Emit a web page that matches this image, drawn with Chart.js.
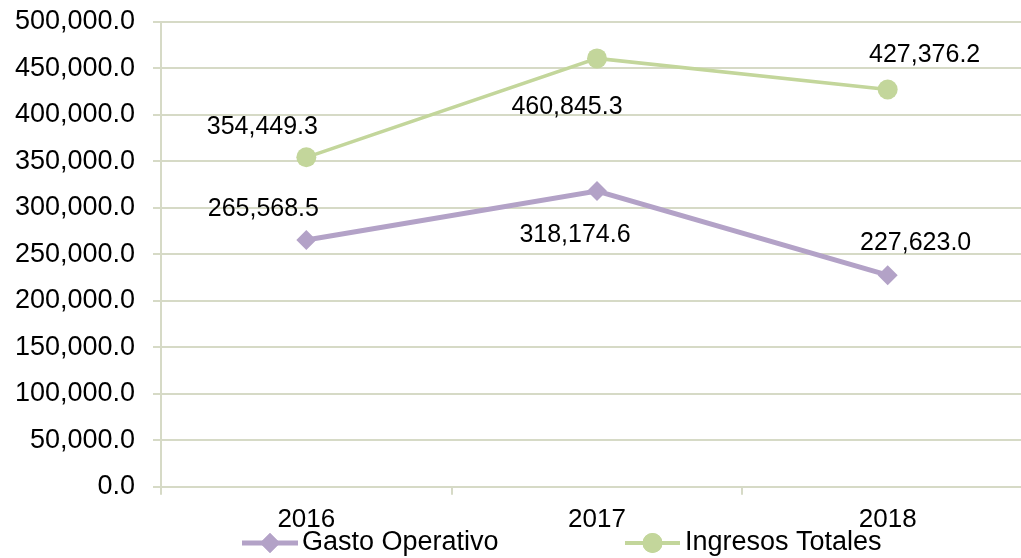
<!DOCTYPE html>
<html>
<head>
<meta charset="utf-8">
<script src="https://cdn.jsdelivr.net/npm/chart.js@4.4.0/dist/chart.umd.min.js"></script>
<style>
  html, body { margin: 0; padding: 0; background: #fff; overflow: hidden; }
  #wrap { width: 1021px; height: 558px; overflow: hidden; }
  #box { width: 1043px; height: 558px; }
</style>
</head>
<body>
<div id="wrap"><div id="box"><canvas id="chart"></canvas></div></div>
<script>
// Chart data
const years = ['2016', '2017', '2018'];
const gastoOperativo = [265568.5, 318174.6, 227623.0];
const ingresosTotales = [354449.3, 460845.3, 427376.2];
const seriesNames = ['Gasto Operativo', 'Ingresos Totales'];

const purple = '#b3a2c7';
const green = '#c3d69b';
const gridColor = '#d6dac6';
const fontFamily = '"Liberation Sans", Arial, sans-serif';

const fmt = v => v.toLocaleString('en-US', { minimumFractionDigits: 1, maximumFractionDigits: 1 });

// label offsets (px) from each point, per dataset
const labelOffsets = [
    [[-43, -31], [-22, 44], [28, -32]],
    [[-44, -30], [-30, 49], [37, -34]]
];

const dataLabels = {
    id: 'dataLabels',
    afterDatasetsDraw(chart) {
        const ctx = chart.ctx;
        ctx.save();
        ctx.font = '25px ' + fontFamily;
        ctx.fillStyle = '#000';
        ctx.textAlign = 'center';
        ctx.textBaseline = 'middle';
        chart.data.datasets.forEach((ds, i) => {
            chart.getDatasetMeta(i).data.forEach((pt, j) => {
                const off = labelOffsets[i][j];
                ctx.fillText(fmt(ds.data[j]), pt.x + off[0], pt.y + off[1]);
            });
        });
        ctx.restore();
    }
};

// legend with line + marker like the original
const bottomLegend = {
    id: 'bottomLegend',
    afterDraw(chart) {
        const ctx = chart.ctx;
        const y = 543;
        const items = [
            { x: 242, len: 56, color: purple, width: 5, style: 'rectRot', r: 10, tx: 302 },
            { x: 625, len: 55, color: green, width: 4, style: 'circle', r: 10, tx: 685 }
        ];
        ctx.save();
        items.forEach((it, i) => {
            ctx.strokeStyle = it.color;
            ctx.lineWidth = it.width;
            ctx.beginPath();
            ctx.moveTo(it.x, y);
            ctx.lineTo(it.x + it.len, y);
            ctx.stroke();
            ctx.fillStyle = it.color;
            Chart.helpers.drawPoint(ctx, { pointStyle: it.style, radius: it.r, borderWidth: 0 }, it.x + it.len / 2, y);
            ctx.fill();
            ctx.fillStyle = '#000';
            ctx.font = '27px ' + fontFamily;
            ctx.textAlign = 'left';
            ctx.textBaseline = 'middle';
            ctx.fillText(seriesNames[i], it.tx, y);
        });
        ctx.restore();
    }
};

new Chart(document.getElementById('chart').getContext('2d'), {
    type: 'line',
    data: {
        labels: years,
        datasets: [{
            label: seriesNames[0],
            data: gastoOperativo,
            borderColor: purple,
            backgroundColor: purple,
            borderWidth: 5,
            pointStyle: 'rectRot',
            pointRadius: 10,
            pointHoverRadius: 10,
            pointBorderWidth: 0,
            tension: 0
        }, {
            label: seriesNames[1],
            data: ingresosTotales,
            borderColor: green,
            backgroundColor: green,
            borderWidth: 3.5,
            pointStyle: 'circle',
            pointRadius: 10,
            pointHoverRadius: 10,
            pointBorderWidth: 0,
            tension: 0
        }]
    },
    options: {
        responsive: true,
        maintainAspectRatio: false,
        animation: false,
        layout: { padding: { top: 22, right: 3, bottom: 14, left: 0 } },
        plugins: {
            legend: { display: false },
            tooltip: { enabled: false }
        },
        scales: {
            x: {
                offset: true,
                grid: { offset: true, drawOnChartArea: false, drawTicks: true, tickLength: 8, color: gridColor, lineWidth: 2 },
                border: { color: gridColor, width: 2 },
                ticks: { color: '#000', font: { family: fontFamily, size: 26 }, padding: 9, maxRotation: 0 }
            },
            y: {
                min: 0,
                max: 500000,
                grid: { color: gridColor, lineWidth: 2, drawTicks: true, tickLength: 8 },
                border: { color: gridColor, width: 2 },
                ticks: {
                    stepSize: 50000,
                    color: '#000',
                    font: { family: fontFamily, size: 27 },
                    padding: 18,
                    callback: v => fmt(v)
                },
                afterFit(scale) {
                    scale.width = 161;
                    scale.paddingTop = 0;
                    scale.paddingBottom = 0;
                }
            }
        }
    },
    plugins: [dataLabels, bottomLegend]
});
</script>
</body>
</html>
